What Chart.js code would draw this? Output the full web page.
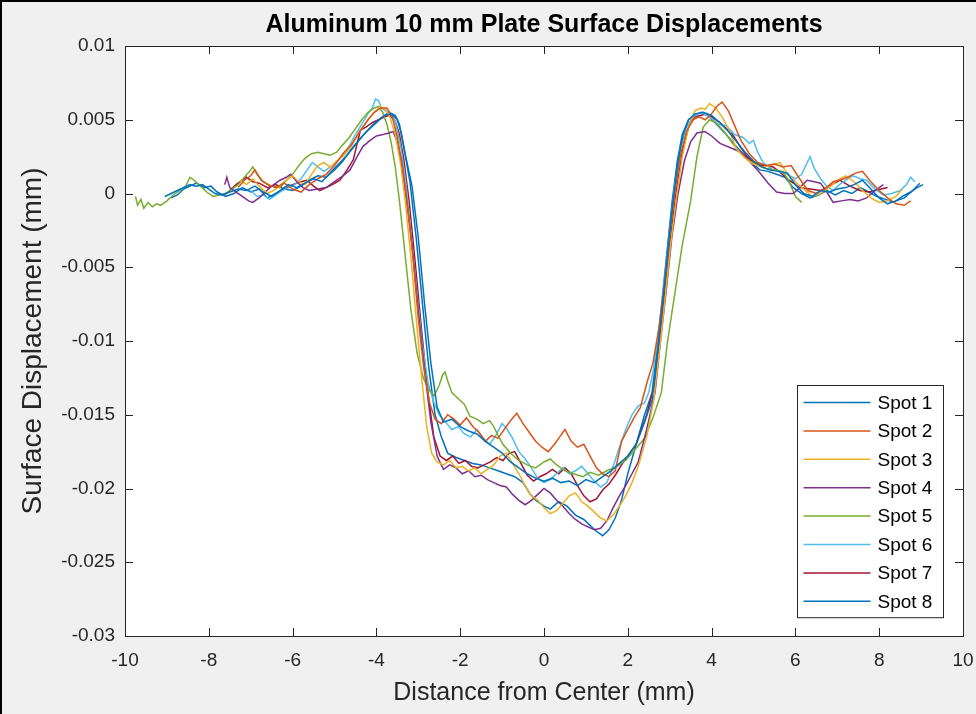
<!DOCTYPE html>
<html>
<head>
<meta charset="utf-8">
<title>Aluminum 10 mm Plate Surface Displacements</title>
<script src="https://cdn.jsdelivr.net/npm/chart.js@4.4.0/dist/chart.umd.min.js"></script>
<style>
  html, body { margin: 0; padding: 0; background: #f0f0f0; }
  #wrap { width: 976px; height: 714px; position: relative; }
</style>
</head>
<body>
<div id="wrap"><canvas id="plateChart" width="976" height="714"></canvas></div>
<script>
// Tick labels (as printed on the figure)
const xTickLabels = ['-10', '-8', '-6', '-4', '-2', '0', '2', '4', '6', '8', '10'];
const yTickLabels = ['-0.03', '-0.025', '-0.02', '-0.015', '-0.01', '-0.005', '0', '0.005', '0.01'];
const spotNames = ['Spot 1', 'Spot 2', 'Spot 3', 'Spot 4', 'Spot 5', 'Spot 6', 'Spot 7', 'Spot 8'];
// MATLAB default line colours, order repeats after 7
const spotColors = ['#0072BD', '#D95319', '#EDB120', '#7E2F8E', '#77AC30', '#4DBEEE', '#A2142F', '#0072BD'];

// Measured profiles: [distance from center (mm), surface displacement (mm)]
const spot1 = [[-9.05,-0.0002],[-8.9,0.0000],[-8.75,0.0002],[-8.6,0.0004],[-8.45,0.0006],[-8.3,0.0005],[-8.15,0.0006],[-8.0,0.0003],[-7.85,0.0000],[-7.7,-0.0001],[-7.5,0.0001],[-7.3,0.0003],[-7.1,0.0002],[-6.9,0.0005],[-6.7,0.0001],[-6.5,-0.0002],[-6.3,0.0002],[-6.1,0.0006],[-5.9,0.0004],[-5.7,0.0007],[-5.5,0.0010],[-5.3,0.0008],[-5.1,0.0014],[-4.9,0.0020],[-4.7,0.0026],[-4.5,0.0033],[-4.3,0.0040],[-4.1,0.0046],[-3.95,0.0050],[-3.8,0.0053],[-3.65,0.0054],[-3.5,0.0050],[-3.4,0.0040],[-3.3,0.0025],[-3.15,0.0005],[-3.0,-0.0030],[-2.85,-0.0075],[-2.7,-0.0115],[-2.55,-0.0145],[-2.4,-0.0155],[-2.2,-0.0153],[-2.0,-0.0158],[-1.8,-0.0161],[-1.6,-0.0163],[-1.4,-0.0168],[-1.2,-0.0172],[-1.0,-0.0176],[-0.8,-0.0182],[-0.6,-0.0186],[-0.4,-0.0190],[-0.2,-0.0193],[0.0,-0.0195],[0.2,-0.0193],[0.4,-0.0196],[0.6,-0.0195],[0.8,-0.0198],[1.0,-0.0194],[1.2,-0.0196],[1.4,-0.0192],[1.6,-0.0188],[1.8,-0.0183],[2.0,-0.0178],[2.2,-0.0170],[2.4,-0.0155],[2.58,-0.0140],[2.72,-0.0105],[2.84,-0.0072],[2.96,-0.0038],[3.08,-0.0005],[3.2,0.0022],[3.32,0.0040],[3.45,0.0050],[3.6,0.0054],[3.8,0.0055],[4.0,0.0053],[4.2,0.0048],[4.4,0.0042],[4.6,0.0035],[4.8,0.0028],[5.0,0.0022],[5.2,0.0018],[5.4,0.0016],[5.6,0.0015],[5.8,0.0014],[6.0,0.0006],[6.2,0.0000],[6.4,-0.0002],[6.6,0.0002],[6.8,0.0001],[7.0,0.0003],[7.2,0.0004],[7.4,0.0006],[7.6,0.0009],[7.8,0.0003],[8.0,-0.0003],[8.2,-0.0007],[8.4,-0.0005],[8.6,-0.0003],[8.8,0.0002],[8.97,0.0007]];

const spot2 = [[-7.3,0.0004],[-7.15,0.0009],[-7.0,0.0012],[-6.9,0.0016],[-6.75,0.0009],[-6.6,0.0006],[-6.4,0.0004],[-6.2,0.0007],[-6.0,0.0003],[-5.8,0.0001],[-5.6,0.0006],[-5.4,0.0010],[-5.2,0.0013],[-5.0,0.0019],[-4.8,0.0027],[-4.6,0.0033],[-4.4,0.0042],[-4.2,0.0050],[-4.05,0.0055],[-3.9,0.0058],[-3.75,0.0058],[-3.62,0.0052],[-3.5,0.0038],[-3.38,0.0018],[-3.25,-0.0010],[-3.12,-0.0045],[-3.0,-0.0085],[-2.87,-0.0118],[-2.73,-0.0142],[-2.6,-0.0153],[-2.45,-0.0156],[-2.3,-0.0150],[-2.15,-0.0153],[-2.0,-0.0157],[-1.85,-0.0152],[-1.7,-0.0158],[-1.55,-0.0162],[-1.4,-0.0168],[-1.25,-0.0164],[-1.1,-0.0166],[-0.95,-0.0160],[-0.8,-0.0154],[-0.65,-0.0149],[-0.5,-0.0156],[-0.35,-0.0162],[-0.2,-0.0168],[-0.05,-0.0172],[0.1,-0.0175],[0.25,-0.0170],[0.4,-0.0164],[0.5,-0.0160],[0.65,-0.0168],[0.8,-0.0172],[0.95,-0.0170],[1.1,-0.0178],[1.25,-0.0186],[1.4,-0.0190],[1.55,-0.0192],[1.7,-0.0188],[1.85,-0.0168],[2.0,-0.0160],[2.15,-0.0152],[2.3,-0.0145],[2.46,-0.0128],[2.6,-0.0115],[2.75,-0.0090],[2.88,-0.0060],[3.0,-0.0028],[3.12,0.0000],[3.25,0.0025],[3.4,0.0042],[3.55,0.0050],[3.7,0.0052],[3.85,0.0050],[4.0,0.0054],[4.12,0.0059],[4.25,0.0062],[4.4,0.0056],[4.55,0.0046],[4.7,0.0036],[4.9,0.0027],[5.1,0.0021],[5.3,0.0019],[5.5,0.0020],[5.7,0.0018],[5.9,0.0019],[6.1,0.0010],[6.3,0.0002],[6.5,0.0000],[6.7,0.0003],[6.9,0.0008],[7.05,0.0009],[7.25,0.0011],[7.45,0.0014],[7.6,0.0015],[7.8,0.0008],[8.0,0.0002],[8.2,-0.0003],[8.4,-0.0007],[8.6,-0.0008],[8.75,-0.0005]];

const spot3 = [[-7.25,0.0009],[-7.1,0.0006],[-6.95,0.0010],[-6.8,0.0005],[-6.6,0.0000],[-6.4,0.0003],[-6.2,0.0008],[-6.0,0.0012],[-5.85,0.0008],[-5.7,0.0006],[-5.55,0.0013],[-5.4,0.0019],[-5.25,0.0021],[-5.1,0.0018],[-4.95,0.0022],[-4.8,0.0025],[-4.6,0.0032],[-4.4,0.0042],[-4.2,0.0050],[-4.05,0.0055],[-3.9,0.0059],[-3.78,0.0057],[-3.68,0.0052],[-3.55,0.0040],[-3.42,0.0020],[-3.3,-0.0008],[-3.17,-0.0045],[-3.05,-0.0085],[-2.92,-0.0125],[-2.8,-0.0158],[-2.68,-0.0176],[-2.55,-0.0182],[-2.4,-0.0184],[-2.25,-0.0181],[-2.1,-0.0186],[-1.95,-0.0185],[-1.8,-0.0188],[-1.65,-0.0186],[-1.5,-0.0190],[-1.35,-0.0187],[-1.2,-0.0184],[-1.05,-0.0178],[-0.9,-0.0176],[-0.75,-0.0183],[-0.6,-0.0190],[-0.45,-0.0198],[-0.3,-0.0205],[-0.15,-0.0208],[0.0,-0.0213],[0.15,-0.0217],[0.3,-0.0215],[0.45,-0.0210],[0.6,-0.0205],[0.75,-0.0203],[0.9,-0.0209],[1.05,-0.0212],[1.2,-0.0216],[1.35,-0.0220],[1.5,-0.0222],[1.65,-0.0218],[1.8,-0.0212],[1.95,-0.0205],[2.1,-0.0196],[2.25,-0.0185],[2.45,-0.0165],[2.62,-0.0140],[2.78,-0.0100],[2.9,-0.0068],[3.02,-0.0035],[3.15,-0.0005],[3.3,0.0025],[3.45,0.0045],[3.6,0.0056],[3.75,0.0058],[3.85,0.0057],[3.95,0.0061],[4.1,0.0058],[4.25,0.0052],[4.4,0.0044],[4.6,0.0030],[4.8,0.0024],[5.0,0.0020],[5.2,0.0018],[5.4,0.0019],[5.63,0.0021],[5.8,0.0014],[6.0,0.0008],[6.2,0.0003],[6.4,-0.0002],[6.6,0.0000],[6.8,0.0004],[7.0,0.0009],[7.2,0.0012],[7.4,0.0008],[7.6,0.0002],[7.8,-0.0003],[8.0,-0.0006],[8.2,-0.0005],[8.4,-0.0002],[8.55,0.0003]];

const spot4 = [[-7.62,0.0006],[-7.57,0.0011],[-7.5,0.0004],[-7.35,0.0001],[-7.2,-0.0002],[-7.05,-0.0005],[-6.95,-0.0006],[-6.8,-0.0003],[-6.65,0.0001],[-6.5,0.0005],[-6.3,0.0009],[-6.15,0.0011],[-6.05,0.0013],[-5.9,0.0008],[-5.75,0.0004],[-5.6,0.0002],[-5.4,0.0003],[-5.2,0.0004],[-5.0,0.0008],[-4.8,0.0012],[-4.63,0.0016],[-4.48,0.0024],[-4.32,0.0032],[-4.15,0.0036],[-4.0,0.0039],[-3.84,0.0040],[-3.7,0.0041],[-3.6,0.0042],[-3.5,0.0035],[-3.4,0.0022],[-3.3,0.0000],[-3.15,-0.0035],[-3.0,-0.0080],[-2.85,-0.0120],[-2.7,-0.0155],[-2.55,-0.0178],[-2.4,-0.0187],[-2.25,-0.0184],[-2.1,-0.0186],[-1.95,-0.0190],[-1.8,-0.0188],[-1.65,-0.0192],[-1.5,-0.0191],[-1.35,-0.0194],[-1.2,-0.0196],[-1.05,-0.0198],[-0.9,-0.0199],[-0.75,-0.0204],[-0.6,-0.0208],[-0.45,-0.0211],[-0.3,-0.0208],[-0.15,-0.0204],[0.0,-0.0200],[0.15,-0.0203],[0.3,-0.0208],[0.45,-0.0212],[0.6,-0.0217],[0.75,-0.0221],[0.9,-0.0224],[1.05,-0.0226],[1.2,-0.0228],[1.35,-0.0227],[1.5,-0.0222],[1.65,-0.0213],[1.8,-0.0205],[1.95,-0.0198],[2.1,-0.0190],[2.25,-0.0182],[2.45,-0.0160],[2.65,-0.0135],[2.78,-0.0100],[2.92,-0.0065],[3.05,-0.0030],[3.2,0.0000],[3.35,0.0022],[3.5,0.0035],[3.65,0.0041],[3.84,0.0042],[4.0,0.0039],[4.2,0.0034],[4.45,0.0031],[4.7,0.0028],[4.9,0.0022],[5.15,0.0014],[5.35,0.0007],[5.55,0.0001],[5.75,0.0000],[5.95,0.0000],[6.1,0.0004],[6.28,0.0009],[6.45,0.0008],[6.6,0.0007],[6.75,0.0001],[6.9,-0.0006],[7.1,-0.0005],[7.3,-0.0004],[7.5,-0.0005],[7.7,-0.0003],[7.9,0.0002],[8.1,0.0006]];

const spot5 = [[-9.75,-0.0002],[-9.7,-0.0008],[-9.62,-0.0004],[-9.55,-0.0010],[-9.45,-0.0006],[-9.35,-0.0009],[-9.25,-0.0007],[-9.15,-0.0008],[-9.0,-0.0005],[-8.85,-0.0001],[-8.7,0.0002],[-8.55,0.0005],[-8.45,0.0011],[-8.35,0.0009],[-8.2,0.0005],[-8.05,0.0001],[-7.9,-0.0002],[-7.75,-0.0001],[-7.6,0.0000],[-7.45,0.0003],[-7.3,0.0006],[-7.15,0.0011],[-7.0,0.0016],[-6.95,0.0018],[-6.85,0.0013],[-6.7,0.0008],[-6.5,0.0005],[-6.3,0.0004],[-6.15,0.0009],[-6.0,0.0013],[-5.85,0.0019],[-5.7,0.0024],[-5.55,0.0027],[-5.4,0.0028],[-5.25,0.0027],[-5.1,0.0026],[-4.95,0.0028],[-4.8,0.0033],[-4.65,0.0038],[-4.5,0.0044],[-4.35,0.0050],[-4.2,0.0055],[-4.05,0.0058],[-3.95,0.0059],[-3.85,0.0055],[-3.75,0.0047],[-3.65,0.0035],[-3.55,0.0018],[-3.45,-0.0005],[-3.32,-0.0040],[-3.18,-0.0078],[-3.03,-0.0108],[-2.88,-0.0125],[-2.75,-0.0133],[-2.62,-0.0137],[-2.5,-0.0130],[-2.42,-0.0123],[-2.36,-0.0121],[-2.3,-0.0127],[-2.2,-0.0135],[-2.05,-0.0139],[-1.9,-0.0143],[-1.77,-0.0151],[-1.6,-0.0153],[-1.45,-0.0156],[-1.3,-0.0154],[-1.2,-0.0158],[-1.1,-0.0164],[-0.98,-0.0170],[-0.8,-0.0176],[-0.6,-0.0181],[-0.4,-0.0184],[-0.2,-0.0186],[0.0,-0.0182],[0.15,-0.0180],[0.3,-0.0184],[0.5,-0.0188],[0.7,-0.0190],[0.93,-0.0192],[1.1,-0.0189],[1.3,-0.0191],[1.5,-0.0188],[1.74,-0.0185],[1.95,-0.0181],[2.1,-0.0176],[2.22,-0.0172],[2.4,-0.0166],[2.6,-0.0152],[2.8,-0.0135],[2.95,-0.0100],[3.1,-0.0072],[3.3,-0.0035],[3.5,-0.0005],[3.65,0.0025],[3.8,0.0045],[3.95,0.0050],[4.1,0.0048],[4.3,0.0042],[4.5,0.0034],[4.7,0.0027],[4.9,0.0022],[5.1,0.0019],[5.3,0.0017],[5.5,0.0016],[5.7,0.0015],[5.85,0.0008],[6.0,-0.0002],[6.15,-0.0006]];

const spot6 = [[-7.0,0.0002],[-6.85,-0.0002],[-6.7,-0.0001],[-6.55,-0.0004],[-6.4,-0.0001],[-6.25,0.0002],[-6.1,0.0004],[-5.95,0.0006],[-5.8,0.0010],[-5.65,0.0016],[-5.53,0.0021],[-5.4,0.0018],[-5.25,0.0015],[-5.1,0.0018],[-4.95,0.0021],[-4.8,0.0026],[-4.65,0.0032],[-4.5,0.0040],[-4.35,0.0047],[-4.2,0.0054],[-4.1,0.0058],[-4.02,0.0064],[-3.95,0.0063],[-3.88,0.0058],[-3.78,0.0056],[-3.68,0.0055],[-3.55,0.0049],[-3.42,0.0032],[-3.3,0.0008],[-3.17,-0.0028],[-3.03,-0.0068],[-2.9,-0.0103],[-2.77,-0.0128],[-2.65,-0.0140],[-2.5,-0.0150],[-2.35,-0.0155],[-2.2,-0.0160],[-2.05,-0.0158],[-1.9,-0.0163],[-1.75,-0.0165],[-1.6,-0.0160],[-1.45,-0.0166],[-1.3,-0.0170],[-1.15,-0.0164],[-1.0,-0.0156],[-0.9,-0.0159],[-0.75,-0.0166],[-0.6,-0.0175],[-0.45,-0.0180],[-0.3,-0.0186],[-0.15,-0.0193],[0.0,-0.0196],[0.15,-0.0194],[0.3,-0.0190],[0.45,-0.0186],[0.6,-0.0190],[0.75,-0.0188],[0.9,-0.0185],[1.05,-0.0190],[1.2,-0.0195],[1.35,-0.0199],[1.5,-0.0196],[1.65,-0.0185],[1.8,-0.0172],[1.95,-0.0160],[2.1,-0.0150],[2.25,-0.0144],[2.4,-0.0142],[2.5,-0.0135],[2.62,-0.0118],[2.75,-0.0090],[2.88,-0.0058],[3.0,-0.0025],[3.12,0.0005],[3.25,0.0030],[3.4,0.0045],[3.55,0.0052],[3.75,0.0055],[3.95,0.0052],[4.15,0.0047],[4.35,0.0046],[4.55,0.0040],[4.75,0.0038],[4.9,0.0034],[5.0,0.0036],[5.1,0.0028],[5.23,0.0021],[5.4,0.0017],[5.6,0.0015],[5.8,0.0013],[6.0,0.0010],[6.15,0.0013],[6.3,0.0022],[6.35,0.0025],[6.45,0.0017],[6.6,0.0010],[6.75,0.0005],[6.9,0.0002],[7.05,0.0006],[7.2,0.0009],[7.37,0.0012],[7.55,0.0010],[7.7,0.0009],[7.9,0.0003],[8.1,-0.0001],[8.3,0.0000],[8.5,0.0002],[8.65,0.0006],[8.75,0.0011],[8.85,0.0008]];

const spot7 = [[-7.62,-0.0001],[-7.5,0.0002],[-7.35,0.0006],[-7.2,0.0009],[-7.1,0.0011],[-6.95,0.0008],[-6.8,0.0007],[-6.6,0.0004],[-6.4,0.0006],[-6.2,0.0003],[-6.0,0.0006],[-5.8,0.0008],[-5.66,0.0009],[-5.5,0.0005],[-5.35,0.0002],[-5.2,0.0004],[-5.05,0.0006],[-4.87,0.0009],[-4.7,0.0016],[-4.55,0.0023],[-4.45,0.0035],[-4.38,0.0043],[-4.25,0.0045],[-4.1,0.0048],[-3.95,0.0050],[-3.8,0.0052],[-3.68,0.0053],[-3.55,0.0049],[-3.45,0.0040],[-3.35,0.0024],[-3.22,-0.0005],[-3.08,-0.0045],[-2.93,-0.0090],[-2.78,-0.0133],[-2.63,-0.0165],[-2.48,-0.0178],[-2.33,-0.0181],[-2.18,-0.0178],[-2.03,-0.0183],[-1.88,-0.0181],[-1.73,-0.0185],[-1.58,-0.0186],[-1.43,-0.0184],[-1.28,-0.0182],[-1.13,-0.0179],[-0.98,-0.0181],[-0.83,-0.0176],[-0.7,-0.0175],[-0.55,-0.0183],[-0.4,-0.0191],[-0.25,-0.0195],[-0.1,-0.0192],[0.05,-0.0190],[0.2,-0.0187],[0.35,-0.0190],[0.5,-0.0186],[0.65,-0.0190],[0.8,-0.0198],[0.95,-0.0205],[1.1,-0.0209],[1.25,-0.0207],[1.4,-0.0201],[1.55,-0.0197],[1.7,-0.0191],[1.85,-0.0184],[2.0,-0.0178],[2.2,-0.0170],[2.45,-0.0150],[2.65,-0.0128],[2.78,-0.0095],[2.9,-0.0062],[3.02,-0.0030],[3.15,0.0000],[3.3,0.0028],[3.45,0.0045],[3.6,0.0052],[3.75,0.0053],[3.9,0.0054],[4.05,0.0051],[4.2,0.0048],[4.35,0.0044],[4.5,0.0040],[4.7,0.0031],[4.85,0.0025],[5.0,0.0021],[5.2,0.0019],[5.47,0.0018],[5.65,0.0014],[5.85,0.0009],[6.1,0.0004],[6.35,0.0003],[6.6,0.0002],[6.8,0.0005],[7.06,0.0009],[7.3,0.0005],[7.54,0.0002],[7.75,0.0001],[7.9,0.0002],[8.05,0.0003],[8.2,0.0004]];

const spot8 = [[-8.9,-0.0003],[-8.75,-0.0001],[-8.6,0.0003],[-8.45,0.0005],[-8.3,0.0007],[-8.1,0.0004],[-7.95,0.0005],[-7.8,0.0001],[-7.6,-0.0002],[-7.4,0.0000],[-7.2,0.0004],[-7.0,0.0001],[-6.8,0.0003],[-6.6,-0.0003],[-6.4,0.0000],[-6.2,0.0003],[-6.0,0.0002],[-5.8,0.0005],[-5.6,0.0009],[-5.4,0.0012],[-5.2,0.0011],[-5.0,0.0016],[-4.8,0.0022],[-4.6,0.0030],[-4.4,0.0037],[-4.2,0.0043],[-4.0,0.0048],[-3.85,0.0052],[-3.7,0.0055],[-3.55,0.0053],[-3.45,0.0047],[-3.35,0.0032],[-3.2,0.0008],[-3.05,-0.0030],[-2.9,-0.0075],[-2.75,-0.0118],[-2.6,-0.0150],[-2.45,-0.0165],[-2.3,-0.0176],[-2.1,-0.0179],[-1.9,-0.0181],[-1.7,-0.0183],[-1.5,-0.0184],[-1.3,-0.0186],[-1.1,-0.0188],[-0.9,-0.0190],[-0.7,-0.0192],[-0.5,-0.0196],[-0.35,-0.0203],[-0.2,-0.0208],[0.0,-0.0212],[0.15,-0.0214],[0.35,-0.0209],[0.55,-0.0212],[0.75,-0.0218],[0.95,-0.0221],[1.1,-0.0225],[1.25,-0.0229],[1.4,-0.0232],[1.55,-0.0228],[1.7,-0.0220],[1.85,-0.0208],[2.0,-0.0190],[2.2,-0.0170],[2.4,-0.0150],[2.58,-0.0135],[2.7,-0.0105],[2.82,-0.0072],[2.94,-0.0038],[3.06,-0.0005],[3.18,0.0022],[3.3,0.0040],[3.45,0.0050],[3.6,0.0053],[3.75,0.0055],[3.95,0.0052],[4.15,0.0046],[4.35,0.0040],[4.55,0.0033],[4.75,0.0027],[4.95,0.0021],[5.15,0.0016],[5.35,0.0015],[5.55,0.0013],[5.75,0.0011],[5.95,0.0004],[6.15,0.0000],[6.35,-0.0003],[6.55,-0.0001],[6.75,0.0002],[6.95,-0.0001],[7.15,0.0002],[7.35,0.0000],[7.55,0.0004],[7.75,0.0001],[7.95,-0.0002],[8.15,-0.0004],[8.35,-0.0006],[8.55,-0.0002],[8.75,0.0001],[8.9,0.0004],[9.05,0.0006]];

const spotData = [spot1, spot2, spot3, spot4, spot5, spot6, spot7, spot8];

const fontFamily = "'Liberation Sans', Arial, Helvetica, sans-serif";
const axisColor = '#262626';

// MATLAB style: grey figure, white axes, box with ticks pointing inward, legend in the corner
const matlabLook = {
    id: 'matlabLook',
    beforeDraw(chart) {
        const { ctx, width, height, chartArea: a } = chart;
        ctx.save();
        ctx.fillStyle = '#f0f0f0';
        ctx.fillRect(0, 0, width, height);
        ctx.fillStyle = '#000';
        ctx.fillRect(0, 0, width, 2);
        ctx.fillRect(0, 0, 2, height);
        ctx.fillStyle = '#fff';
        ctx.fillRect(a.left, a.top, a.right - a.left, a.bottom - a.top);
        ctx.restore();
    },
    afterDraw(chart) {
        const { ctx, chartArea: a, scales } = chart;
        const tickLen = 8;
        ctx.save();
        ctx.strokeStyle = axisColor;
        ctx.lineWidth = 1;

        // axes box
        ctx.strokeRect(Math.round(a.left) + 0.5, Math.round(a.top) + 0.5,
            Math.round(a.right - a.left), Math.round(a.bottom - a.top));

        // inward ticks
        ctx.beginPath();
        scales.x.ticks.forEach(t => {
            const px = Math.round(scales.x.getPixelForValue(t.value)) + 0.5;
            ctx.moveTo(px, a.bottom); ctx.lineTo(px, a.bottom - tickLen);
            ctx.moveTo(px, a.top); ctx.lineTo(px, a.top + tickLen);
        });
        scales.y.ticks.forEach(t => {
            const py = Math.round(scales.y.getPixelForValue(t.value)) + 0.5;
            ctx.moveTo(a.left, py); ctx.lineTo(a.left + tickLen, py);
            ctx.moveTo(a.right, py); ctx.lineTo(a.right - tickLen, py);
        });
        ctx.stroke();

        // legend, lower right inside the axes
        const lw = 146, rowH = 28.4;
        const lh = rowH * chart.data.datasets.length + 5;
        const lx = Math.round(a.right - 20 - lw) + 0.5;
        const ly = Math.round(a.bottom - 19 - lh) + 0.5;
        ctx.fillStyle = '#fff';
        ctx.fillRect(lx, ly, lw, lh);
        ctx.strokeRect(lx, ly, lw, lh);
        ctx.font = '19px ' + fontFamily;
        ctx.textBaseline = 'middle';
        ctx.textAlign = 'left';
        chart.data.datasets.forEach((ds, i) => {
            const cy = ly + 17 + i * rowH;
            ctx.strokeStyle = ds.borderColor;
            ctx.lineWidth = 1.5;
            ctx.beginPath();
            ctx.moveTo(lx + 6, cy); ctx.lineTo(lx + 73, cy);
            ctx.stroke();
            ctx.fillStyle = '#000';
            ctx.fillText(ds.label, lx + 80, cy + 1);
        });
        ctx.restore();
    }
};

const datasets = spotData.map((pts, i) => ({
    label: spotNames[i],
    data: pts.map(p => ({ x: p[0], y: p[1] })),
    borderColor: spotColors[i],
    backgroundColor: spotColors[i],
    borderWidth: 1.5,
    pointRadius: 0,
    showLine: true,
    tension: 0,
    fill: false
}));

new Chart(document.getElementById('plateChart'), {
    type: 'scatter',
    data: { datasets: datasets },
    options: {
        responsive: false,
        animation: false,
        layout: { padding: { left: 0, right: 13, top: 0, bottom: 0 } },
        plugins: {
            legend: { display: false },
            tooltip: { enabled: false },
            title: {
                display: true,
                fullSize: false,
                text: 'Aluminum 10 mm Plate Surface Displacements',
                color: '#000',
                font: { family: fontFamily, size: 25, weight: 'bold', lineHeight: 1.2 },
                padding: { top: 10, bottom: 6 }
            }
        },
        scales: {
            x: {
                type: 'linear',
                min: -10,
                max: 10,
                afterFit: s => { s.height = 78; },
                // tick marks are drawn by the plugin; tickLength only spaces the labels
                grid: { display: false, drawTicks: true, tickLength: 13 },
                border: { display: false },
                ticks: {
                    stepSize: 2,
                    padding: 0,
                    color: axisColor,
                    font: { family: fontFamily, size: 19 },
                    maxRotation: 0,
                    callback: (v, i) => xTickLabels[i]
                },
                title: {
                    display: true,
                    text: 'Distance from Center (mm)',
                    color: axisColor,
                    font: { family: fontFamily, size: 25, lineHeight: 1.2 },
                    padding: { top: 0, bottom: 6 }
                }
            },
            y: {
                type: 'linear',
                min: -0.03,
                max: 0.01,
                afterFit: s => { s.width = 125; },
                grid: { display: false, drawTicks: false },
                border: { display: false },
                ticks: {
                    stepSize: 0.005,
                    padding: 10,
                    color: axisColor,
                    font: { family: fontFamily, size: 19 },
                    callback: (v, i) => yTickLabels[i]
                },
                title: {
                    display: true,
                    text: 'Surface Displacement (mm)',
                    color: axisColor,
                    font: { family: fontFamily, size: 28, lineHeight: 1.2 },
                    padding: { top: 16, bottom: 0 }
                }
            }
        }
    },
    plugins: [matlabLook]
});
</script>
</body>
</html>
